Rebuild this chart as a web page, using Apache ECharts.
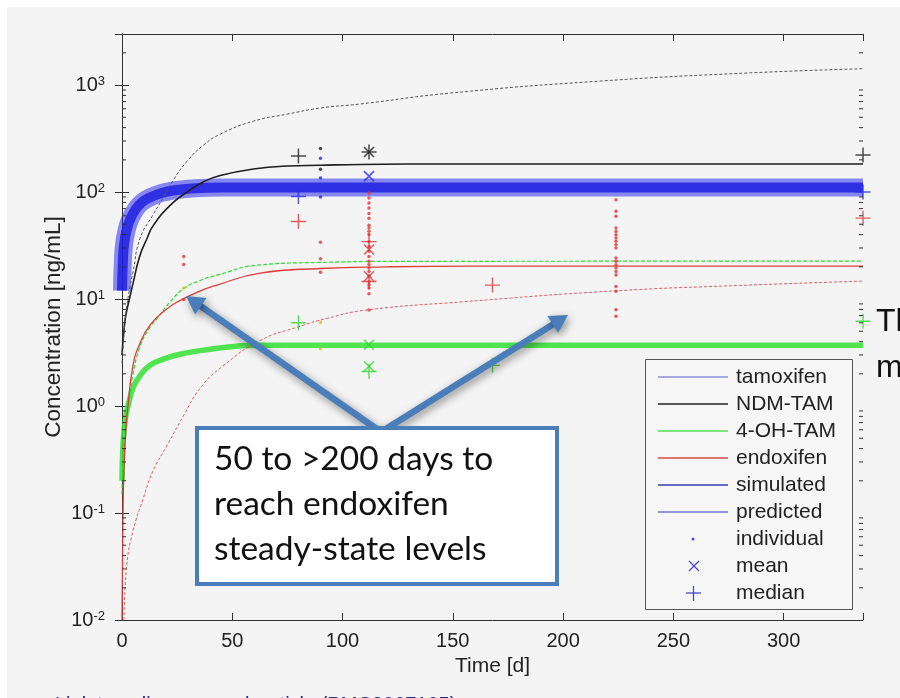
<!DOCTYPE html>
<html><head><meta charset="utf-8">
<script src="https://cdn.jsdelivr.net/npm/echarts@6/dist/echarts.min.js"></script>
<style>
html,body{margin:0;padding:0;background:#fff;}
#chart{width:900px;height:698px;background:linear-gradient(#f4f4f4,#f4f4f4) 7px 7px/893px 691px no-repeat,#fff;}
</style></head><body><div id="chart"></div>
<script>
// ---------------- data ----------------
const xTickValues = [0, 50, 100, 150, 200, 250, 300];
const minorTickMantissas = [2, 3, 4, 5, 6, 7, 8, 9];
const tickDecades = [0.01, 0.1, 1, 10, 100, 1000];

// tamoxifen simulated (thick blue band)
const tamoxifenDays = [0, 0.5, 1, 2, 3.6, 6, 9, 12.7, 18, 24, 32, 45, 336];
const tamoxifenConc = [12, 25, 33, 43, 55, 68, 80, 89, 98, 104, 108, 110, 110];
// 4-OH-TAM simulated (thick green band)
const hydroxyBandDays = [0, 0.5, 1.5, 2.7, 5, 8, 12.7, 20, 28, 40, 61, 336];
const hydroxyBandConc = [0.2, 0.45, 0.75, 1.0, 1.47, 1.9, 2.4, 2.8, 3.1, 3.4, 3.7, 3.7];
// NDM-TAM (solid black)
const ndmDays = [0, 1, 2, 3.6, 5, 8, 11.4, 14, 21.8, 29.5, 37, 44.5, 59.5, 75, 90, 108, 150, 336];
const ndmConc = [3, 5.5, 7.5, 10.5, 14, 25, 37, 48, 75, 100, 125, 143, 164, 175, 178, 181, 183, 183];
// NDM-TAM predicted (thin dotted black)
const ndmPredDays = [0, 1, 2, 3.6, 5, 8.2, 14, 18.6, 23, 29.5, 37, 44.5, 59.5, 75, 90, 108, 149, 217, 285, 336];
const ndmPredConc = [2.5, 5, 8, 13, 18, 37, 61, 88, 127, 194, 275, 347, 459, 535, 610, 665, 842, 1090, 1300, 1420];
// 4-OH-TAM (thin green)
const hydroxyDays = [0, 0.5, 1, 2, 3.6, 5, 8, 12, 16, 22, 28, 35, 43, 62, 90, 130, 336];
const hydroxyConc = [0.15, 0.35, 0.5, 0.8, 1.3, 2.0, 3.5, 5.2, 6.6, 9.5, 12.5, 14.8, 16.7, 20.8, 22, 22.5, 22.6];
// endoxifen (thin red)
const endoxDays = [0, 0.3, 0.6, 1, 1.5, 2.7, 5, 8, 12.7, 20, 26, 35, 43, 62.7, 90, 120, 160, 336];
const endoxConc = [0.01, 0.05, 0.15, 0.3, 0.5, 1.0, 2.4, 3.8, 5.7, 8, 9.6, 11.8, 13.5, 17.5, 19.3, 20, 20.3, 20.3];
// endoxifen predicted (thin dotted red)
const endoxPredDays = [0.9, 2.2, 5, 9.7, 14, 20.5, 28, 35.5, 45, 62.7, 80, 93, 111, 154, 223, 280, 336];
const endoxPredConc = [0.01, 0.033, 0.068, 0.138, 0.246, 0.43, 0.82, 1.47, 2.3, 4.1, 5.5, 6.6, 7.9, 9.4, 11.9, 13.4, 14.7];

// individual observations [day, conc]
const individualBlack = [[90, 255], [90, 163]];
const individualBlue = [[90, 207], [90, 135], [90, 90]];
const individualGreen = [[28, 12.7], [90, 6.05], [90, 3.43]];
const individualRedDay112 = [98, 88, 79, 71, 63, 57, 49, 46, 43, 40, 34.4, 31, 28, 25, 22.5, 21, 19.5, 18.1, 16.3, 14.6, 13.6, 12.7, 11.2, 7.9];
const individualRedDay224 = [84.6, 66, 59.3, 46, 42.8, 39.9, 37.1, 34.6, 32.2, 30, 24.2, 22.5, 20.9, 19.5, 18.1, 16.8, 13.1, 11.8, 7.95, 6.9];
const individualRedOther = [[28, 25], [28, 21], [28, 9.9], [90, 34], [90, 23.8], [90, 17.8]];

// means (x) and medians (+)
const meanBlack = [[112, 237]];
const meanBlue = [[112, 141]];
const meanRed = [[112, 29], [112, 16.3]];
const meanGreen = [[112, 3.74], [112, 2.35]];
const medianBlack = [[80, 217], [112, 237], [336, 222]];
const medianBlue = [[80, 91], [336, 100]];
const medianRed = [[80, 53], [112, 34.4], [112, 14.6], [168, 13.5], [336, 57]];
const medianGreen = [[80, 6.0], [112, 2.1], [168, 2.4], [336, 6.2]];

const legendNames = ['tamoxifen', 'NDM-TAM', '4-OH-TAM', 'endoxifen', 'simulated', 'predicted', 'individual', 'mean', 'median'];

// ---------------- chart ----------------
const FONT = "'Liberation Sans', Arial, Helvetica, sans-serif";
const zip = (xs, ys) => xs.map((x, i) => [x, ys[i]]);
const minorTickValues = [];
tickDecades.forEach(d => minorTickMantissas.forEach(m => { if (m * d < 3000) minorTickValues.push(m * d); }));
const individualRed = individualRedOther
  .concat(individualRedDay112.map(v => [112, v]))
  .concat(individualRedDay224.map(v => [224, v]));

const BLACK = '#1e1e1e', BLUE = '#2a2ae6', RED = '#e03434', GREEN = '#2fd42f';
const PLUS = 'path://M0,7H14M7,0V14';
const CROSS = 'path://M0,0L10,10M10,0L0,10';

function lineSeries(name, data, style, z) {
  return { name, type: 'line', data, symbol: 'none', showSymbol: false, smooth: 0.5,
    lineStyle: style, z: z || 3, silent: true, animation: false };
}
function markerSeries(name, data, symbol, size, color, lw) {
  return { name, type: 'scatter', data, symbol, symbolSize: size, clip: false, z: 6, silent: true, animation: false,
    itemStyle: symbol === 'circle' ? { color } : { color: 'rgba(0,0,0,0)', borderColor: color, borderWidth: lw } };
}

const axisColor = '#303030';
const option = {
  animation: false,
  backgroundColor: 'transparent',
  grid: { left: 122, right: 37, top: 34, bottom: 78 },
  xAxis: [
    { type: 'value', min: 0, max: 336, interval: 50, position: 'bottom',
      axisLine: { show: true, lineStyle: { color: axisColor, width: 1 } },
      axisTick: { show: true, inside: true, length: 7, lineStyle: { color: axisColor } },
      axisLabel: { fontSize: 20, color: '#222', margin: 11, fontFamily: FONT,
        formatter: v => xTickValues.indexOf(v) >= 0 ? String(v) : '' },
      splitLine: { show: false },
      name: 'Time [d]', nameLocation: 'middle', nameGap: 36, nameMoveOverlap: false,
      nameTextStyle: { fontSize: 21, color: '#222', fontFamily: FONT } },
    { type: 'value', min: 0, max: 336, interval: 50, position: 'top',
      axisLine: { show: true, lineStyle: { color: axisColor, width: 1 } },
      axisTick: { show: true, inside: true, length: 7, lineStyle: { color: axisColor } },
      axisLabel: { show: false }, splitLine: { show: false } }
  ],
  yAxis: [
    { type: 'log', logBase: 10, min: 0.01, max: 3000, position: 'left',
      axisLine: { show: true, lineStyle: { color: axisColor, width: 1 } },
      axisTick: { show: true, inside: true, length: 7, lineStyle: { color: axisColor } },
      axisLabel: { margin: 17, fontFamily: FONT,
        formatter: v => { const e = Math.log10(v); const r = Math.round(e);
          if (Math.abs(e - r) > 1e-6) return ''; return '{b|10}{e|' + r + '}'; },
        rich: { b: { fontSize: 20, lineHeight: 20, color: '#222', fontFamily: FONT },
                e: { fontSize: 13, lineHeight: 13, verticalAlign: 'top', color: '#222', fontFamily: FONT } } },
      splitLine: { show: false },
      name: 'Concentration [ng/mL]', nameLocation: 'middle', nameGap: 57, nameRotate: 90, nameMoveOverlap: false,
      nameTextStyle: { fontSize: 22.5, color: '#222', fontFamily: FONT } },
    { type: 'log', logBase: 10, min: 0.01, max: 3000, position: 'right',
      axisLine: { show: true, lineStyle: { color: axisColor, width: 1 } },
      axisTick: { show: true, inside: true, length: 7, lineStyle: { color: axisColor } },
      axisLabel: { show: false }, splitLine: { show: false } }
  ],
  series: [
    lineSeries('tamoxifen', zip(tamoxifenDays, tamoxifenConc), { width: 18, color: 'rgba(45,45,238,0.55)' }, 2),
    lineSeries('tamoxifen', zip(tamoxifenDays, tamoxifenConc), { width: 10, color: 'rgba(25,25,225,0.8)' }, 2),
    lineSeries('simulated', zip(hydroxyBandDays, hydroxyBandConc), { width: 5.5, color: 'rgba(50,225,50,0.85)' }, 2),
    lineSeries('NDM-TAM', zip(ndmDays, ndmConc), { width: 1.6, color: BLACK }),
    lineSeries('predicted', zip(ndmPredDays, ndmPredConc), { width: 1, color: '#555', type: [3, 2] }),
    lineSeries('4-OH-TAM', zip(hydroxyDays, hydroxyConc), { width: 1.2, color: '#33d633', type: [4, 2] }),
    lineSeries('endoxifen', zip(endoxDays, endoxConc), { width: 1.3, color: '#e03c3c' }),
    lineSeries('predicted', zip(endoxPredDays, endoxPredConc), { width: 1, color: '#e25a5a', type: [3, 2] }),
    markerSeries('individual', individualBlack, 'circle', 3.5, BLACK),
    markerSeries('individual', individualBlue, 'circle', 3.5, BLUE),
    markerSeries('individual', individualRed, 'circle', 3.5, RED),
    markerSeries('individual', individualGreen, 'circle', 3.5, '#c8c820'),
    markerSeries('mean', meanBlack, CROSS, 10, BLACK, 1.6),
    markerSeries('mean', meanBlue, CROSS, 10, BLUE, 1.6),
    markerSeries('mean', meanRed, CROSS, 10, RED, 1.4),
    markerSeries('mean', meanGreen, CROSS, 10, GREEN, 1.4),
    markerSeries('median', medianBlack, PLUS, 15, BLACK, 1.5),
    markerSeries('median', medianBlue, PLUS, 15, BLUE, 1.5),
    markerSeries('median', medianRed, PLUS, 15, RED, 1.4),
    markerSeries('median', medianGreen, PLUS, 15, GREEN, 1.4),
    { type: 'custom', name: 'minorTicks', silent: true, animation: false, z: 7, clip: false,
      data: minorTickValues.map(v => [0, v]),
      renderItem: (params, api) => {
        const v = api.value(1);
        const pl = api.coord([0, v]);
        const pr = api.coord([336, v]);
        return { type: 'group', children: [
          { type: 'line', shape: { x1: pl[0], y1: pl[1], x2: pl[0] + 4, y2: pl[1] }, style: { stroke: axisColor, lineWidth: 1 } },
          { type: 'line', shape: { x1: pr[0] - 4, y1: pr[1], x2: pr[0], y2: pr[1] }, style: { stroke: axisColor, lineWidth: 1 } }
        ] };
      } }
  ]
};

// ---------- annotation, legend and slide text (graphic layer) ----------
const ARROW = '#4a7ebb';
function arrow(x0, y0, x1, y1) {
  const dx = x1 - x0, dy = y1 - y0, L = Math.hypot(dx, dy), ux = dx / L, uy = dy / L;
  const hl = 18, hw = 10;
  const bx = x1 - ux * hl, by = y1 - uy * hl;
  const shadow = { shadowBlur: 8, shadowColor: 'rgba(0,0,0,0.45)', shadowOffsetX: 2, shadowOffsetY: 3 };
  return [
    { type: 'line', z: 30, shape: { x1: x0, y1: y0, x2: bx + ux * 2, y2: by + uy * 2 },
      style: Object.assign({ stroke: ARROW, lineWidth: 6.5 }, shadow) },
    { type: 'polygon', z: 30, shape: { points: [[x1, y1], [bx - uy * hw, by + ux * hw], [bx + uy * hw, by - ux * hw]] },
      style: Object.assign({ fill: ARROW }, shadow) }
  ];
}

const legendLineColors = ['#8e8edc', '#222222', '#55dd55', '#d64e4e', '#3a3ab4', '#7070d0'];
const legendEls = [{ type: 'rect', z: 40, shape: { x: 645.5, y: 359.5, width: 207, height: 250 },
  style: { fill: '#f6f6f6', stroke: '#555', lineWidth: 1 } }];
legendNames.forEach((nm, i) => {
  const cy = 377 + i * 27;
  legendEls.push({ type: 'text', z: 41, x: 736, y: cy,
    style: { text: nm, fontSize: 21, fontFamily: FONT, fill: '#222', verticalAlign: 'middle', align: 'left' } });
  if (i < legendLineColors.length) {
    legendEls.push({ type: 'line', z: 41, shape: { x1: 658, y1: cy, x2: 728, y2: cy },
      style: { stroke: legendLineColors[i], lineWidth: 1.3 } });
  }
});
const LB = '#4848d4';
legendEls.push({ type: 'circle', z: 41, shape: { cx: 693, cy: 377 + 6 * 27, r: 1.5 }, style: { fill: LB } });
legendEls.push({ type: 'polyline', z: 41, shape: { points: [[689, 561], [699, 571]] }, style: { stroke: LB, lineWidth: 1.3, fill: null } });
legendEls.push({ type: 'polyline', z: 41, shape: { points: [[699, 561], [689, 571]] }, style: { stroke: LB, lineWidth: 1.3, fill: null } });
legendEls.push({ type: 'line', z: 41, shape: { x1: 686, y1: 593, x2: 701, y2: 593 }, style: { stroke: LB, lineWidth: 1.3 } });
legendEls.push({ type: 'line', z: 41, shape: { x1: 693.5, y1: 586, x2: 693.5, y2: 601 }, style: { stroke: LB, lineWidth: 1.3 } });

option.graphic = { elements: [
  ...arrow(381, 432, 186, 296),
  ...arrow(381, 432, 568, 315),
  { type: 'rect', z: 32, shape: { x: 197, y: 428, width: 360, height: 156 },
    style: { fill: '#ffffff', stroke: ARROW, lineWidth: 4 } },
  { type: 'text', z: 33, x: 214, y: 437,
    style: { text: '50 to >200 days to\nreach endoxifen\nsteady-state levels', fontSize: 33.5, lineHeight: 45,
      fontFamily: "Lato, 'Open Sans', sans-serif", fill: '#111' } },
  ...legendEls,
  { type: 'text', z: 33, x: 876, y: 306,
    style: { text: 'Th', fontSize: 32, fontFamily: FONT, fill: '#111', verticalAlign: 'alphabetic' } },
  { type: 'text', z: 33, x: 876, y: 352,
    style: { text: 'm', fontSize: 32, fontFamily: FONT, fill: '#111', verticalAlign: 'alphabetic' } },
  { type: 'text', z: 33, x: 55, y: 695,
    style: { text: 'Link to online research article (PMC3067105)', fontSize: 20, fontFamily: FONT, fill: '#24248c' } }
] };

const chart = echarts.init(document.getElementById('chart'), null, { renderer: 'canvas' });
chart.setOption(option);
</script>
</body></html>
